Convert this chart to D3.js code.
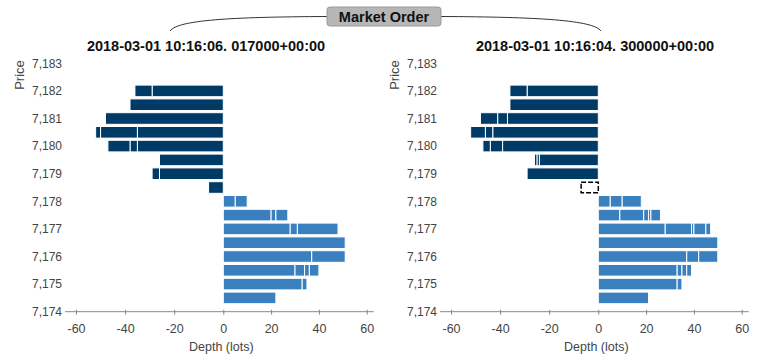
<!DOCTYPE html>
<html>
<head>
<meta charset="utf-8">
<script src="https://cdn.jsdelivr.net/npm/d3@7"></script>
<style>
  body { margin: 0; background: #fff; }
  text { font-family: "Liberation Sans", Arial, sans-serif; }
</style>
</head>
<body>
<div id="chart"></div>
<script>
// price levels (half-point steps)
var askPrices = [7182, 7181.5, 7181, 7180.5, 7180, 7179.5, 7179, 7178.5];
var bidPrices = [7178, 7177.5, 7177, 7176.5, 7176, 7175.5, 7175, 7174.5];

// order sizes at each level, innermost order first (lots)
var leftAskOrders = [[29, 7], [38], [48], [35, 15, 2], [35, 3, 9], [26], [26, 3], [6]];
var leftBidOrders = [[5, 5], [20, 2, 5], [28, 3, 17], [51], [37, 14], [30, 4, 2, 4], [33, 2], [22]];
var rightAskOrders = [[29, 7], [36], [37, 4, 7], [43, 3, 6], [39, 5, 3], [24, 1, 1], [29], []];
var rightBidOrders = [[5, 5, 8], [9, 10, 2, 1, 4], [28, 11, 1, 5, 2], [50], [37, 5, 8], [33, 2, 2, 2], [33, 2], [21]];

// the market order that was taken out (shown dashed on the right)
var marketOrderPrice = [7178.5];
var marketOrderLots = [7];

var panelTitles = ["2018-03-01 10:16:06. 017000+00:00", "2018-03-01 10:16:04. 300000+00:00"];
var xTicks = [-60, -40, -20, 0, 20, 40, 60];
var yTicks = [7174, 7175, 7176, 7177, 7178, 7179, 7180, 7181, 7182, 7183];

var svgWidth = 770;
var svgHeight = 360;
var askColor = "#003a66";
var bidColor = "#3b80be";

var svg = d3.select("#chart")
  .append("svg")
  .attr("width", svgWidth)
  .attr("height", svgHeight);

// scales are the same for both panels, the right one is shifted
var xScale = d3.scaleLinear().domain([-60, 0, 60]).range([76, 223.3, 366.7]);
var yScale = d3.scaleLinear().domain([7174, 7183]).range([311.7, 63.3]);
var barH = 11.6;

var panels = [
  {title: panelTitles[0], asks: leftAskOrders, bids: leftBidOrders, dx: 0, titleX: 206, removed: false},
  {title: panelTitles[1], asks: rightAskOrders, bids: rightBidOrders, dx: 375, titleX: 220, removed: true}
];

// turn order lists into stacked segments
function segments(prices, orders, sign) {
  var out = [];
  prices.forEach(function (p, i) {
    var cum = 0;
    orders[i].forEach(function (v) {
      out.push({price: p, x0: sign * cum, x1: sign * (cum + v)});
      cum += v;
    });
  });
  return out;
}

panels.forEach(function (panel) {
  var g = svg.append("g").attr("transform", `translate(${panel.dx}, 0)`);

  // title
  g.append("text")
    .attr("x", panel.titleX)
    .attr("y", 51)
    .attr("text-anchor", "middle")
    .style("font-size", "14.5px")
    .style("font-weight", "bold")
    .style("fill", "#111")
    .text(panel.title);

  // bars
  var segs = segments(askPrices, panel.asks, -1).map(d => Object.assign(d, {c: askColor}))
    .concat(segments(bidPrices, panel.bids, 1).map(d => Object.assign(d, {c: bidColor})));

  g.selectAll("rect.seg")
    .data(segs)
    .enter()
    .append("rect")
    .attr("class", "seg")
    .attr("x", d => xScale(Math.min(d.x0, d.x1)))
    .attr("width", d => Math.abs(xScale(d.x1) - xScale(d.x0)))
    .attr("y", d => yScale(d.price) - barH / 2)
    .attr("height", barH)
    .attr("fill", d => d.c)
    .attr("stroke", "#fff")
    .attr("stroke-width", 1);

  // dashed outline for the consumed market order
  if (panel.removed) {
    g.selectAll("rect.gone")
      .data(marketOrderPrice)
      .enter()
      .append("rect")
      .attr("class", "gone")
      .attr("x", (d, i) => xScale(-marketOrderLots[i]))
      .attr("width", (d, i) => xScale(0) - xScale(-marketOrderLots[i]))
      .attr("y", d => yScale(d) - barH / 2 + 0.5)
      .attr("height", barH - 1)
      .attr("fill", "none")
      .attr("stroke", "#000")
      .attr("stroke-width", 1.5)
      .attr("stroke-dasharray", "5,2");
  }

  // x axis
  var xAxis = g.append("g")
    .attr("transform", `translate(0, ${yScale(7174)})`)
    .call(d3.axisBottom(xScale).tickValues(xTicks).tickFormat(d => String(d))
      .tickSize(3).tickPadding(9).tickSizeOuter(0));
  xAxis.select(".domain").remove();
  xAxis.append("line")
    .attr("x1", xScale(-60) - 11)
    .attr("x2", xScale(60) + 7)
    .attr("stroke", "#888");
  xAxis.selectAll(".tick line").attr("y1", -2).attr("stroke", "#888");
  xAxis.selectAll(".tick text")
    .style("font-size", "12.5px")
    .style("font-family", "Liberation Sans, Arial, sans-serif")
    .attr("fill", "#444");

  // y axis labels (no axis line)
  g.selectAll("text.ytick")
    .data(yTicks)
    .enter()
    .append("text")
    .attr("class", "ytick")
    .attr("x", 62)
    .attr("y", d => yScale(d))
    .attr("dy", "0.35em")
    .attr("text-anchor", "end")
    .style("font-size", "12px")
    .style("fill", "#444")
    .text(d => d3.format(",")(d));

  // axis titles
  g.append("text")
    .attr("transform", "translate(24, 75) rotate(-90)")
    .attr("text-anchor", "middle")
    .style("font-size", "13px")
    .style("fill", "#444")
    .text("Price");

  g.append("text")
    .attr("x", (xScale(-60) + xScale(60)) / 2)
    .attr("y", 351)
    .attr("text-anchor", "middle")
    .style("font-size", "12.5px")
    .style("fill", "#444")
    .text("Depth (lots)");
});

// "Market Order" callout with the brace linking both panels
svg.append("path")
  .attr("d", "M170,31 C178,20 230,17 327,16.5 M441,16.5 C538,17 593,20 601,31")
  .attr("fill", "none")
  .attr("stroke", "#333")
  .attr("stroke-width", 1);

svg.append("rect")
  .attr("x", 327)
  .attr("y", 7)
  .attr("width", 114)
  .attr("height", 19)
  .attr("rx", 3)
  .attr("fill", "#b6b6b6")
  .attr("stroke", "#9a9a9a");

svg.append("text")
  .attr("x", 384)
  .attr("y", 22)
  .attr("text-anchor", "middle")
  .style("font-size", "14.5px")
  .style("font-weight", "bold")
  .style("fill", "#111")
  .text("Market Order");
</script>
</body>
</html>
